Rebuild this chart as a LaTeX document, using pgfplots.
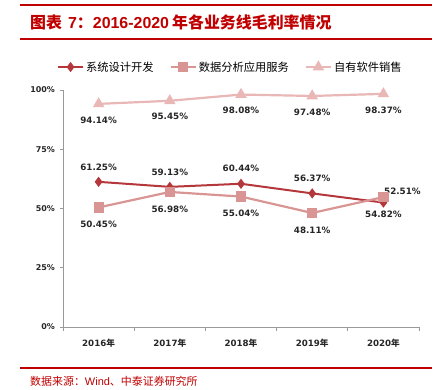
\documentclass[border=0pt]{standalone}
\usepackage{fontspec}
\usepackage{pgfplots}
\pgfplotsset{compat=1.18}
\setmainfont{DejaVu Sans}
\newfontfamily\cjk{Noto Sans CJK SC}
\newfontfamily\arial{Liberation Sans}
\definecolor{c1}{HTML}{B4373B}
\definecolor{c2}{HTML}{D99593}
\definecolor{c3}{HTML}{E8B7B6}
\definecolor{hdr}{HTML}{C00000}
\begin{document}
\begin{tikzpicture}[x=1bp,y=1bp]
\useasboundingbox (0,0) rectangle (439,389);
\draw[hdr, line width=1.5bp] (20,384) -- (432,384);
\draw[hdr, line width=1.5bp] (20,350) -- (432,350);
\node[anchor=west, text=hdr, font=\cjk\bfseries\fontsize{16}{18}\selectfont, inner sep=0] at (30,367) {图表\hspace{6bp}{\arial 7}：{\arial 2016-2020}\hspace{3bp}年各业务线毛利率情况};
\draw[hdr, line width=1.2bp] (20,21) -- (432,21);
\node[anchor=west, text=hdr, font=\cjk\fontsize{11}{13}\selectfont, inner sep=0] at (30,8) {数据来源：{\arial Wind}、中泰证券研究所};
\begin{axis}[
  at={(63bp,62bp)}, anchor=south west,
  scale only axis, width=356bp, height=237bp,
  xmin=0, xmax=5, ymin=0, ymax=100,
  axis lines*=left,
  axis line style={draw=gray!80, line width=0.8bp},
  xtick={0,1,2,3,4,5},
  x tick label as interval,
  xticklabels={2016{\cjk 年},2017{\cjk 年},2018{\cjk 年},2019{\cjk 年},2020{\cjk 年}},
  ytick={0,25,50,75,100},
  yticklabels={0\%,25\%,50\%,75\%,100\%},
  tick align=outside,
  major tick length=3.5bp,
  tick style={draw=gray!80, line width=0.8bp},
  tick label style={font=\bfseries\fontsize{8}{9}\selectfont, text=black!85},
  /pgf/number format/assume math mode=true,
  xticklabel style={yshift=-5bp, font=\bfseries\fontsize{8.7}{10}\selectfont},
  yticklabel style={xshift=-1bp},
  legend style={at={(0.47,1.097)}, anchor=center, draw=none, fill=none,
    font=\cjk\fontsize{11.3}{13}\selectfont, legend columns=3,
    /tikz/every even column/.append style={column sep=14bp},
    inner sep=0pt},
  legend image code/.code={\draw[mark repeat=2,mark phase=2] plot coordinates {(0bp,0bp)(12.5bp,0bp)(25bp,0bp)};},
  clip=false,
]
\addplot[c1, line width=2bp, mark=diamond*, mark size=3.5bp, mark options={solid}] coordinates {(0.5,61.25) (1.5,59.13) (2.5,60.44) (3.5,56.37) (4.5,52.51)};
\addlegendentry{系统设计开发}
\addplot[c2, line width=2.2bp, mark=square*, mark size=4bp] coordinates {(0.5,50.45) (1.5,56.98) (2.5,55.04) (3.5,48.11) (4.5,54.82)};
\addlegendentry{数据分析应用服务}
\addplot[c3, line width=2.2bp, mark=triangle*, mark size=4.5bp] coordinates {(0.5,94.14) (1.5,95.45) (2.5,98.08) (3.5,97.48) (4.5,98.37)};
\addlegendentry{自有软件销售}
\tikzset{lab/.style={font=\bfseries\fontsize{8.8}{10}\selectfont, text=black!85, inner sep=0}}
% series 1 labels (above)
\node[lab, yshift=15bp] at (axis cs:0.5,61.25) {61.25\%};
\node[lab, yshift=15bp] at (axis cs:1.5,59.13) {59.13\%};
\node[lab, yshift=15bp] at (axis cs:2.5,60.44) {60.44\%};
\node[lab, yshift=15bp] at (axis cs:3.5,56.37) {56.37\%};
\node[lab, yshift=11bp, xshift=19bp] at (axis cs:4.5,52.51) {52.51\%};
% series 2 labels (below)
\node[lab, yshift=-17bp] at (axis cs:0.5,50.45) {50.45\%};
\node[lab, yshift=-17bp] at (axis cs:1.5,56.98) {56.98\%};
\node[lab, yshift=-17bp] at (axis cs:2.5,55.04) {55.04\%};
\node[lab, yshift=-17bp] at (axis cs:3.5,48.11) {48.11\%};
\node[lab, yshift=-17bp] at (axis cs:4.5,54.82) {54.82\%};
% series 3 labels (below)
\node[lab, yshift=-16bp] at (axis cs:0.5,94.14) {94.14\%};
\node[lab, yshift=-16bp] at (axis cs:1.5,95.45) {95.45\%};
\node[lab, yshift=-16bp] at (axis cs:2.5,98.08) {98.08\%};
\node[lab, yshift=-16bp] at (axis cs:3.5,97.48) {97.48\%};
\node[lab, yshift=-16bp] at (axis cs:4.5,98.37) {98.37\%};
\end{axis}
\end{tikzpicture}
\end{document}
